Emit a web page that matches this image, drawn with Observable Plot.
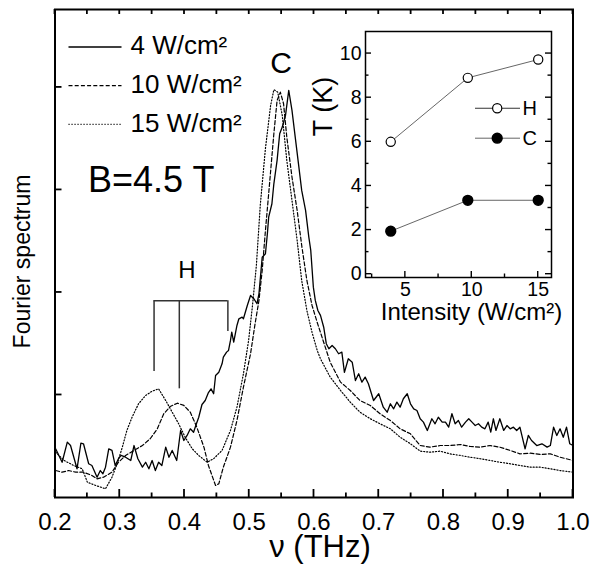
<!DOCTYPE html>
<html><head><meta charset="utf-8">
<script src="https://cdn.jsdelivr.net/npm/d3@7"></script>
<script src="https://cdn.jsdelivr.net/npm/@observablehq/plot@0.6"></script>
<style>
body{margin:0;background:#fff;}
#wrap{position:relative;width:590px;height:572px;}
#wrap svg{position:absolute;left:0;top:0;}
</style></head><body><div id="wrap"></div>
<script>
const nu4 = [0.201,0.211,0.219,0.224,0.234,0.240,0.244,0.252,0.257,0.265,0.270,0.274,0.278,0.283,0.288,0.293,0.298,0.302,0.309,0.317,0.322,0.328,0.335,0.340,0.345,0.350,0.355,0.360,0.365,0.371,0.376,0.381,0.388,0.394,0.399,0.404,0.409,0.414,0.418,0.422,0.427,0.432,0.437,0.441,0.445,0.448,0.453,0.458,0.460,0.465,0.468,0.471,0.473,0.476,0.481,0.484,0.489,0.491,0.497,0.502,0.507,0.512,0.515,0.520,0.525,0.528,0.530,0.535,0.538,0.543,0.547,0.551,0.556,0.561,0.566,0.571,0.576,0.581,0.587,0.592,0.595,0.599,0.602,0.606,0.610,0.615,0.619,0.623,0.628,0.633,0.638,0.643,0.647,0.653,0.659,0.664,0.669,0.674,0.679,0.684,0.692,0.700,0.707,0.713,0.718,0.723,0.728,0.733,0.738,0.744,0.749,0.754,0.759,0.764,0.769,0.775,0.782,0.787,0.792,0.798,0.803,0.808,0.813,0.818,0.823,0.828,0.834,0.839,0.844,0.849,0.854,0.859,0.864,0.869,0.873,0.877,0.881,0.887,0.893,0.898,0.903,0.908,0.913,0.918,0.926,0.931,0.936,0.944,0.952,0.960,0.965,0.970,0.975,0.980,0.985,0.990,0.995,1.000];
const s4 = [0.475,0.344,0.540,0.507,0.280,0.530,0.524,0.329,0.312,0.198,0.263,0.231,0.296,0.475,0.459,0.312,0.378,0.410,0.393,0.361,0.507,0.378,0.296,0.344,0.280,0.361,0.263,0.344,0.312,0.491,0.393,0.459,0.361,0.654,0.556,0.605,0.670,0.637,0.712,0.783,0.907,0.946,1.024,1.060,1.012,1.190,1.222,1.304,1.369,1.418,1.434,1.532,1.613,1.515,1.678,1.743,1.759,1.743,1.873,1.971,1.939,1.890,1.987,2.344,2.378,2.573,2.735,2.865,3.060,3.288,3.548,3.613,3.727,3.971,3.776,3.515,3.256,2.995,2.800,2.540,2.410,2.052,1.922,1.824,1.776,1.661,1.500,1.451,1.483,1.451,1.402,1.418,1.220,1.353,1.320,1.141,1.207,1.125,1.174,1.109,0.946,1.012,0.881,0.832,0.914,0.865,0.930,0.881,0.963,1.012,0.914,0.865,0.849,0.768,0.735,0.654,0.768,0.719,0.783,0.735,0.735,0.686,0.817,0.719,0.751,0.686,0.735,0.768,0.735,0.702,0.719,0.686,0.670,0.735,0.637,0.768,0.654,0.768,0.654,0.702,0.670,0.686,0.654,0.686,0.475,0.605,0.556,0.507,0.524,0.491,0.507,0.686,0.605,0.670,0.588,0.686,0.524,0.507];
const nu10 = [0.201,0.211,0.221,0.232,0.244,0.257,0.265,0.275,0.288,0.298,0.309,0.322,0.335,0.347,0.358,0.368,0.378,0.389,0.399,0.409,0.419,0.430,0.437,0.443,0.448,0.453,0.460,0.471,0.481,0.491,0.502,0.509,0.515,0.520,0.525,0.530,0.538,0.543,0.548,0.553,0.558,0.566,0.574,0.581,0.589,0.597,0.605,0.610,0.625,0.641,0.656,0.671,0.687,0.702,0.718,0.733,0.749,0.764,0.779,0.795,0.810,0.826,0.841,0.857,0.872,0.887,0.903,0.918,0.934,0.949,0.965,0.980,1.000];
const s10 = [0.263,0.247,0.263,0.247,0.247,0.215,0.182,0.198,0.247,0.344,0.410,0.459,0.507,0.573,0.670,0.817,0.888,0.920,0.898,0.832,0.686,0.491,0.312,0.205,0.117,0.134,0.296,0.491,0.751,1.076,1.402,1.695,1.922,2.215,2.605,2.963,3.548,3.873,3.954,3.841,3.515,3.125,2.800,2.459,2.117,1.873,1.707,1.610,1.320,1.125,1.044,0.946,0.898,0.817,0.751,0.670,0.621,0.507,0.491,0.507,0.507,0.517,0.498,0.491,0.507,0.491,0.459,0.426,0.432,0.420,0.426,0.393,0.361];
const nu15 = [0.201,0.214,0.229,0.242,0.250,0.263,0.278,0.288,0.296,0.304,0.311,0.319,0.329,0.340,0.350,0.360,0.371,0.381,0.391,0.401,0.412,0.422,0.435,0.445,0.458,0.471,0.481,0.491,0.499,0.505,0.511,0.517,0.525,0.533,0.538,0.544,0.551,0.558,0.566,0.574,0.581,0.589,0.597,0.605,0.610,0.625,0.641,0.656,0.671,0.687,0.702,0.718,0.733,0.749,0.764,0.779,0.795,0.810,0.826,0.841,0.857,0.872,0.887,0.903,0.918,0.934,0.949,0.965,0.980,1.000];
const s15 = [0.442,0.361,0.312,0.280,0.149,0.117,0.085,0.198,0.329,0.491,0.654,0.783,0.914,0.995,1.037,1.060,0.946,0.832,0.719,0.588,0.475,0.410,0.344,0.378,0.459,0.654,0.881,1.207,1.532,1.873,2.263,2.849,3.405,3.824,3.978,3.954,3.727,3.288,2.898,2.507,2.117,1.824,1.610,1.434,1.353,1.174,1.044,0.930,0.832,0.768,0.719,0.670,0.588,0.524,0.452,0.442,0.452,0.426,0.410,0.393,0.378,0.361,0.344,0.329,0.312,0.296,0.296,0.280,0.263,0.247];

const seriesLabels = ["4 W/cm²", "10 W/cm²", "15 W/cm²"];
const hPeakNu = [0.353, 0.392, 0.467];
const hLow = [1.23, 1.06, 1.62];
const hTop = 1.92;
const xTickLabels = [0.2,0.3,0.4,0.5,0.6,0.7,0.8,0.9,1.0];
const xMinorTicks = [0.25,0.35,0.45,0.55,0.65,0.75,0.85,0.95];
const yTicksMain = [1,2,3,4];
const intensity = [3.9, 9.7, 15.0];
const tH = [6.0, 8.9, 9.73];
const tC = [1.95, 3.35, 3.35];
const insetYLabels = [0,2,4,6,8,10];
const insetYMinor = [1,3,5,7,9];
const insetXLabels = [5,10,15];
const insetXMinor = [2.5,7.5,12.5];

const FONT = "'Liberation Sans', Arial, Helvetica, sans-serif";
const zip = (xs, ys) => xs.slice(0, Math.min(xs.length, ys.length)).map((x, i) => ({nu: x, v: ys[i]}));
const d4 = zip(nu4, s4), d10 = zip(nu10, s10), d15 = zip(nu15, s15);
const dashes = [null, "4,2.2", "1.1,1.9"];
const widths = [1.3, 1.2, 1.2];
const W = 590, HT = 572;
const xDom = [0.2, 1.0], yDom = [0, 4.76];

const peaks = [d4, d10, d15].map(d => d.reduce((a, b) => b.v > a.v ? b : a));
const cLabel = [{x: d3.mean(peaks, p => p.nu), y: d3.max(peaks, p => p.v), t: "C"}];
const hLabel = [{x: (hPeakNu[0] + hPeakNu[2]) / 2, y: hTop, t: "H"}];

const legendMarks = [];
seriesLabels.forEach((lab, i) => {
  const dy = 37.5 + i * 38.7;
  legendMarks.push(Plot.ruleY([yDom[1]], {insetLeft: 14, insetRight: 451, dy, stroke: "black", strokeWidth: widths[i], strokeDasharray: dashes[i]}));
  legendMarks.push(Plot.text([lab], {frameAnchor: "top-left", dx: 75.5, dy: dy - 1, textAnchor: "start", lineAnchor: "middle", fontSize: 26}));
});

const main = Plot.plot({
  width: W, height: HT,
  marginLeft: 54.5, marginRight: 17.5, marginTop: 9, marginBottom: 75,
  style: {fontFamily: FONT, background: "transparent", overflow: "visible"},
  x: {domain: xDom},
  y: {domain: yDom},
  marks: [
    Plot.axisX({ticks: xTickLabels, tickSize: 0, tickPadding: 15, tickFormat: d3.format(".1f"), label: null, fontSize: 24}),
    Plot.axisY({ticks: [], label: null}),
    Plot.line(d15, {x: "nu", y: "v", stroke: "black", strokeWidth: widths[2], strokeDasharray: dashes[2]}),
    Plot.line(d10, {x: "nu", y: "v", stroke: "black", strokeWidth: widths[1], strokeDasharray: dashes[1]}),
    Plot.line(d4, {x: "nu", y: "v", stroke: "black", strokeWidth: widths[0]}),
    Plot.ruleX(hPeakNu.map((nu, i) => ({nu, lo: hLow[i]})), {x: "nu", y1: "lo", y2: hTop, stroke: "#333", strokeWidth: 1.5}),
    Plot.ruleY([hTop], {x1: hPeakNu[0], x2: hPeakNu[2], stroke: "#333", strokeWidth: 1.5}),
    Plot.text(hLabel, {x: "x", y: "y", text: "t", dx: -4, dy: -30, fontSize: 24}),
    Plot.text(cLabel, {x: "x", y: "y", text: "t", dy: -26, fontSize: 30}),
    Plot.text(["B=4.5 T"], {frameAnchor: "top-left", dx: 33, dy: 171, textAnchor: "start", lineAnchor: "middle", fontSize: 36}),
    Plot.text(["Fourier spectrum"], {frameAnchor: "left", rotate: -90, dx: -32, dy: 8, textAnchor: "middle", lineAnchor: "middle", fontSize: 23}),
    Plot.text(["ν (THz)"], {frameAnchor: "bottom", dx: 6, dy: 50, textAnchor: "middle", lineAnchor: "middle", fontSize: 31}),
    ...legendMarks,
    Plot.frame({stroke: "black", strokeWidth: 2})
  ]
});

const ixDom = [2, 16], iyDom = [-0.15, 11];
const hRows = intensity.map((x, i) => ({x, t: tH[i]}));
const cRows = intensity.map((x, i) => ({x, t: tC[i]}));

const inset = Plot.plot({
  width: W, height: HT,
  marginLeft: 365, marginRight: 39, marginTop: 31, marginBottom: 295,
  style: {fontFamily: FONT, background: "transparent", overflow: "visible"},
  x: {domain: ixDom},
  y: {domain: iyDom},
  marks: [
    Plot.axisY({ticks: insetYLabels, tickSize: 0, tickPadding: 4, label: null, fontSize: 19.5}),
    Plot.axisX({ticks: insetXLabels, tickSize: 0, tickPadding: 5, label: null, fontSize: 19.5}),
    Plot.line(hRows, {x: "x", y: "t", stroke: "#555", strokeWidth: 0.9}),
    Plot.line(cRows, {x: "x", y: "t", stroke: "#555", strokeWidth: 0.9}),
    Plot.dot(hRows, {x: "x", y: "t", r: 4.6, fill: "white", stroke: "black", strokeWidth: 1.2}),
    Plot.dot(cRows, {x: "x", y: "t", r: 4.9, fill: "black", stroke: "black"}),
    Plot.ruleY([iyDom[1]], {insetLeft: 110, insetRight: 31, dy: 76.7, stroke: "#333", strokeWidth: 1.1}),
    Plot.ruleY([iyDom[1]], {insetLeft: 110, insetRight: 31, dy: 106.7, stroke: "#555", strokeWidth: 0.9}),
    Plot.dot([0], {frameAnchor: "top-left", dx: 131.7, dy: 76.7, r: 4.6, fill: "white", stroke: "black", strokeWidth: 1.2}),
    Plot.dot([0], {frameAnchor: "top-left", dx: 131.7, dy: 106.7, r: 4.9, fill: "black", stroke: "black"}),
    Plot.text(["H"], {frameAnchor: "top-left", dx: 157, dy: 76.7, textAnchor: "start", lineAnchor: "middle", fontSize: 20}),
    Plot.text(["C"], {frameAnchor: "top-left", dx: 157, dy: 106.7, textAnchor: "start", lineAnchor: "middle", fontSize: 20}),
    Plot.text(["T (K)"], {frameAnchor: "top-left", rotate: -90, dx: -42, dy: 75, textAnchor: "middle", lineAnchor: "middle", fontSize: 27}),
    Plot.text(["Intensity (W/cm²)"], {frameAnchor: "bottom", dx: 13, dy: 35, textAnchor: "middle", lineAnchor: "middle", fontSize: 24}),
    Plot.frame({stroke: "black", strokeWidth: 1.5})
  ]
});

// inward tick marks, positioned through each plot's own x and y scales
function addTicks(svg, specs, sw) {
  const sx = svg.scale("x"), sy = svg.scale("y");
  const X = d3.scaleLinear(sx.domain, sx.range), Y = d3.scaleLinear(sy.domain, sy.range);
  const g = d3.select(svg).append("g").attr("stroke", "black").attr("stroke-width", sw).attr("fill", "none");
  for (const s of specs) {
    for (const v of s.values) {
      let x1, x2, y1, y2;
      if (s.side === "bottom") { x1 = x2 = X(v); y1 = Y(sy.domain[0]); y2 = y1 - s.len; }
      else if (s.side === "top") { x1 = x2 = X(v); y1 = Y(sy.domain[1]); y2 = y1 + s.len; }
      else if (s.side === "left") { y1 = y2 = Y(v); x1 = X(sx.domain[0]); x2 = x1 + s.len; }
      else { y1 = y2 = Y(v); x1 = X(sx.domain[1]); x2 = x1 - s.len; }
      g.append("line").attr("x1", x1).attr("x2", x2).attr("y1", y1).attr("y2", y2);
    }
  }
}
addTicks(main, [
  {side: "bottom", values: xTickLabels, len: 8},
  {side: "bottom", values: xMinorTicks, len: 4.5},
  {side: "top", values: xTickLabels.concat(xMinorTicks), len: 5},
  {side: "left", values: yTicksMain, len: 7}
], 1.8);
addTicks(inset, [
  {side: "left", values: insetYLabels, len: 6},
  {side: "left", values: insetYMinor, len: 3.5},
  {side: "right", values: insetYLabels, len: 6},
  {side: "right", values: insetYMinor, len: 3.5},
  {side: "bottom", values: insetXLabels, len: 6},
  {side: "bottom", values: insetXMinor, len: 3.5}
], 1.4);

const wrap = document.getElementById("wrap");
wrap.appendChild(main);
wrap.appendChild(inset);
</script>
</body></html>
